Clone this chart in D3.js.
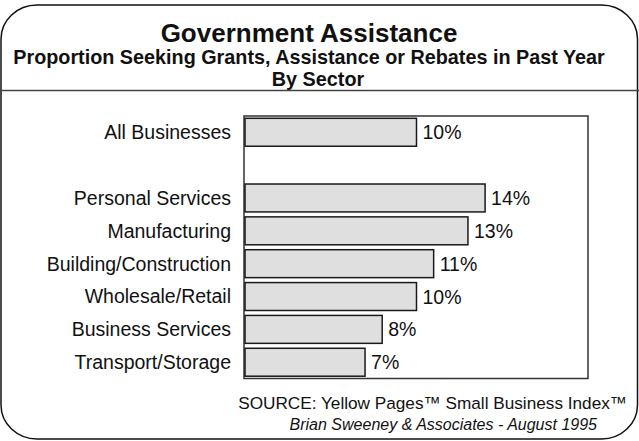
<!DOCTYPE html>
<html>
<head>
<meta charset="utf-8">
<script src="https://cdn.jsdelivr.net/npm/d3@7"></script>
<style>
  html, body { margin: 0; padding: 0; background: #fff; }
  svg { display: block; font-family: "Liberation Sans", Arial, sans-serif; }
</style>
</head>
<body>
<svg id="chart" width="639" height="441"></svg>
<script>
// Sectors, top to bottom; the empty entry leaves a gap under the overall figure
const categories = ["All Businesses", "", "Personal Services", "Manufacturing",
  "Building/Construction", "Wholesale/Retail", "Business Services", "Transport/Storage"];
// Percent of businesses seeking grants, assistance or rebates
const values = [10, null, 14, 13, 11, 10, 8, 7];
const valueLabels = ["10%", "", "14%", "13%", "11%", "10%", "8%", "7%"];

const titleText = "Government Assistance";
const subtitleLines = ["Proportion Seeking Grants, Assistance or Rebates in Past Year", "By Sector"];
const sourceLines = ["SOURCE: Yellow Pages\u2122  Small Business Index\u2122",
  "Brian Sweeney & Associates - August 1995"];

const svg = d3.select("#chart");
const W = 639, H = 441;

// Outer rounded panel
svg.append("rect")
  .attr("x", 1).attr("y", 5).attr("width", W - 2.5).attr("height", H - 7)
  .attr("rx", 36).attr("ry", 34)
  .attr("fill", "#fff").attr("stroke", "#111").attr("stroke-width", 1.5);

// Heading block
svg.append("text").attr("x", 309).attr("y", 42)
  .attr("text-anchor", "middle").attr("font-weight", "bold").attr("font-size", 26)
  .attr("fill", "#111").text(titleText);
svg.append("text").attr("x", 309).attr("y", 64)
  .attr("text-anchor", "middle").attr("font-weight", "bold").attr("font-size", 19.8)
  .attr("fill", "#111").text(subtitleLines[0]);
svg.append("text").attr("x", 318).attr("y", 86)
  .attr("text-anchor", "middle").attr("font-weight", "bold").attr("font-size", 19.8)
  .attr("fill", "#111").text(subtitleLines[1]);

// Rule below the heading
svg.append("line").attr("x1", 0).attr("x2", W).attr("y1", 90.5).attr("y2", 90.5)
  .attr("stroke", "#444").attr("stroke-width", 1.5);

// Scales
const x = d3.scaleLinear().domain([0, 20]).range([245, 588]);
const keys = categories.map((c, i) => i);
const y = d3.scaleBand().domain(keys).range([116, 378.5])
  .paddingInner(0.15).paddingOuter(0.07);

// Plot frame
svg.append("rect")
  .attr("x", x(0) - 1).attr("y", 116)
  .attr("width", x(20) - x(0) + 1).attr("height", 262.5)
  .attr("fill", "none").attr("stroke", "#333").attr("stroke-width", 1.5);

const rows = keys.filter(i => values[i] != null);

// Bars
svg.append("g").selectAll("rect").data(rows).join("rect")
  .attr("x", x(0))
  .attr("y", i => y(i))
  .attr("width", i => x(values[i]) - x(0))
  .attr("height", y.bandwidth())
  .attr("fill", "#dfdfdf").attr("stroke", "#1a1a1a").attr("stroke-width", 1.5);

// Value labels
svg.append("g").selectAll("text").data(rows).join("text")
  .attr("x", i => x(values[i]) + 6)
  .attr("y", i => y(i) + y.bandwidth() / 2 + 7)
  .attr("font-size", 19.5).attr("fill", "#111")
  .text(i => valueLabels[i]);

// Category axis labels
const yAxis = d3.axisLeft(y).tickSize(0).tickPadding(0)
  .tickFormat(i => categories[i]);
const ax = svg.append("g").attr("transform", "translate(231,0)").call(yAxis);
ax.select(".domain").remove();
ax.selectAll("text")
  .attr("font-size", 19.5).attr("fill", "#111")
  .attr("font-family", "'Liberation Sans', Arial, sans-serif")
  .attr("dy", "0.35em");

// Source notes
svg.append("text").attr("x", 627).attr("y", 409)
  .attr("text-anchor", "end").attr("font-size", 17.2).attr("fill", "#111")
  .text(sourceLines[0]);
svg.append("text").attr("x", 597).attr("y", 430)
  .attr("text-anchor", "end").attr("font-size", 16).attr("font-style", "italic")
  .attr("fill", "#111").text(sourceLines[1]);
</script>
</body>
</html>
